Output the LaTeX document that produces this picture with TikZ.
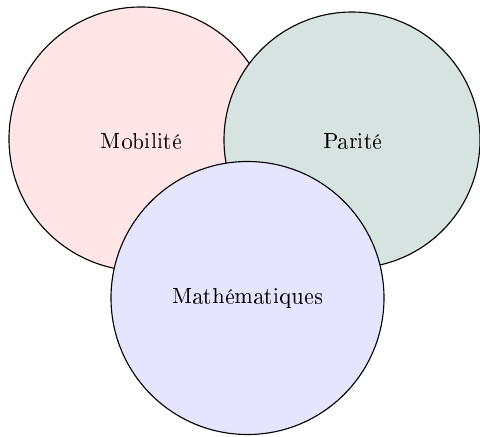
\documentclass[tikz,border=0pt]{standalone}
\usepackage[T1]{fontenc}
\definecolor{pinkfill}{RGB}{255,229,229}
\definecolor{greenfill}{RGB}{214,227,224}
\definecolor{bluefill}{RGB}{229,229,255}
\begin{document}
\begin{tikzpicture}[x=0.446pt,y=-0.446pt,
  setcircle/.style={circle,draw=black,line width=0.5pt,inner sep=0pt}]
\useasboundingbox (0,0) rectangle (480,436);
\node[setcircle,fill=pinkfill,minimum size=264*0.446pt] (mob) at (141,139) {};
\node[setcircle,fill=greenfill,minimum size=256*0.446pt] (par) at (352,140) {};
\node[setcircle,fill=bluefill,minimum size=273*0.446pt] (math) at (247.5,298) {};
\node (tmob) at (141.5,141) {Mobilité};
\node (tpar) at (353,141) {Parité};
\node (tmath) at (247.5,298) {Mathématiques};
\end{tikzpicture}
\end{document}
